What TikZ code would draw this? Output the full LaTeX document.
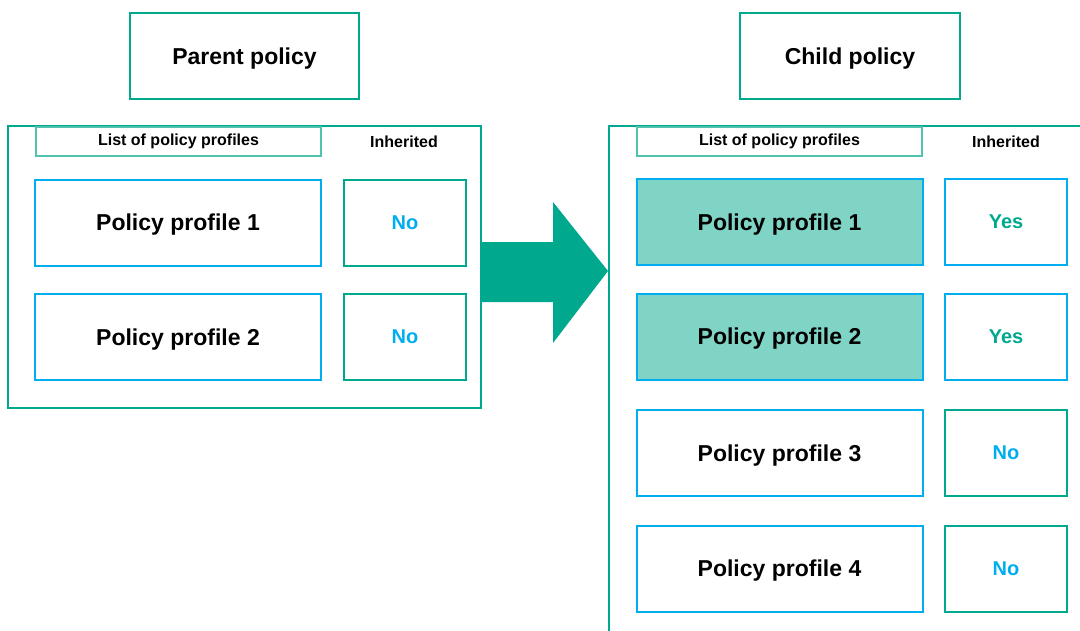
\documentclass[tikz,border=0pt]{standalone}
\usepackage{fontspec}
\setmainfont{Liberation Sans}
\usetikzlibrary{positioning,calc}
\definecolor{kgreen}{HTML}{00A88E}
\definecolor{kblue}{HTML}{00AEEF}
\definecolor{klight}{HTML}{80D4C6}
\definecolor{khead}{HTML}{4FC3AE}
\begin{document}
\begin{tikzpicture}[x=1pt,y=-1pt,font=\bfseries]
\tikzstyle{title}=[draw=kgreen,line width=2pt,minimum height=86pt,text depth=0pt,font=\fontsize{23}{27}\selectfont\bfseries]
\tikzstyle{cont}=[draw=kgreen,line width=2pt]
\tikzstyle{hdr}=[draw=khead,line width=1.2pt,minimum width=285pt,minimum height=29pt,inner sep=0pt,font=\fontsize{16}{19}\selectfont\bfseries]
\tikzstyle{prof}=[draw=kblue,line width=2pt,minimum width=286pt,minimum height=86pt,text depth=0pt,font=\fontsize{23}{27}\selectfont\bfseries]
\tikzstyle{inh}=[line width=2pt,minimum width=122pt,minimum height=86pt,font=\fontsize{20}{24}\selectfont\bfseries]
\useasboundingbox (0,0) rectangle (1080,630);
\clip (0,0) rectangle (1080,630);
% parent side
\node[title,minimum width=229pt] (ptitle) at (244.5,56) {Parent policy};
\node[cont,minimum width=473pt,minimum height=282pt] (pcont) at (244.5,267) {};
\node[hdr] (phdr) at (178.5,141.5) {List of policy profiles};
\node[font=\fontsize{16}{19}\selectfont\bfseries] (pinh) at (404,142) {Inherited};
\node[prof] (pp1) at (178,222.5) {Policy profile 1}; \node[inh,draw=kgreen,text=kblue] (pi1) at (405,222.5) {No};
\node[prof] (pp2) at (178,337) {Policy profile 2}; \node[inh,draw=kgreen,text=kblue] (pi2) at (405,337) {No};
% child side
\node[title,minimum width=220pt] (ctitle) at (850,56) {Child policy};
\node[cont,minimum width=500pt,minimum height=520pt] (ccont) at (859,386) {};
\node[hdr] (chdr) at (779.5,141.5) {List of policy profiles};
\node[font=\fontsize{16}{19}\selectfont\bfseries] (cinh) at (1006,142) {Inherited};
\node[prof,fill=klight] (cp1) at (779.5,222) {Policy profile 1}; \node[inh,draw=kblue,text=kgreen] (ci1) at (1006,222) {Yes};
\node[prof,fill=klight] (cp2) at (779.5,336.5) {Policy profile 2}; \node[inh,draw=kblue,text=kgreen] (ci2) at (1006,336.5) {Yes};
\node[prof] (cp3) at (779.5,453) {Policy profile 3}; \node[inh,draw=kgreen,text=kblue] (ci3) at (1006,453) {No};
\node[prof] (cp4) at (779.5,568.5) {Policy profile 4}; \node[inh,draw=kgreen,text=kblue] (ci4) at (1006,568.5) {No};
% inheritance arrow
\fill[kgreen] (pcont.east |- 0,242) -- (553,242) -- (553,202) -- (ccont.west |- 0,271) -- (553,343) -- (553,302) -- (pcont.east |- 0,302) -- cycle;
\end{tikzpicture}
\end{document}
